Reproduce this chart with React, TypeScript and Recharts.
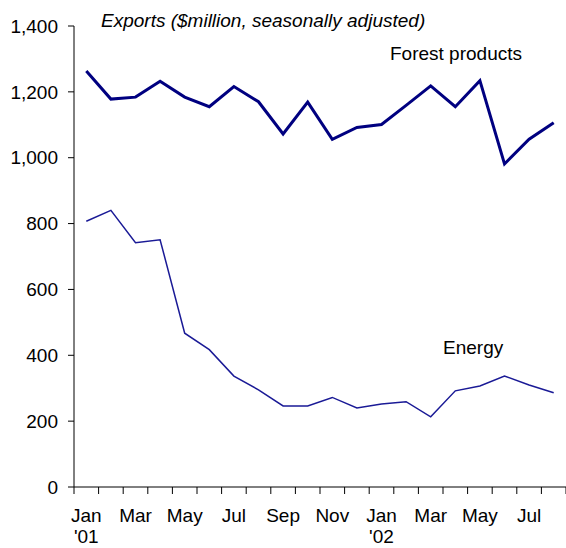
import { Line, LineChart, XAxis, YAxis } from "recharts";

const months = ["Jan", "Feb", "Mar", "Apr", "May", "Jun", "Jul", "Aug", "Sep", "Oct", "Nov", "Dec",
  "Jan", "Feb", "Mar", "Apr", "May", "Jun", "Jul", "Aug"];
const years = ["'01", "", "", "", "", "", "", "", "", "", "", "",
  "'02", "", "", "", "", "", "", ""];
const forestProducts = [1263, 1178, 1184, 1232, 1184, 1155, 1216, 1170, 1072, 1169,
  1056, 1092, 1101, 1159, 1218, 1155, 1234, 981, 1056, 1106];
const energy = [807, 840, 742, 751, 467, 417, 337, 295, 246, 246,
  272, 240, 252, 259, 213, 292, 307, 337, 310, 286];
const yTicks = [0, 200, 400, 600, 800, 1000, 1200, 1400];

// each month sits in the middle of its slot, tick marks go on the slot edges
const data = months.map((m, i) => ({
  x: i + 0.5,
  forest: forestProducts[i],
  energy: energy[i],
}));
const boundaryTicks = [...months.map((_, i) => i), months.length];

const FONT = '"Liberation Sans", Arial, sans-serif';
const W = 566;
const H = 548;

function MonthTick(props: any) {
  const { x, y, payload, width } = props;
  const i = payload.value;
  if (i % 2 !== 0 || i >= months.length) return null;
  const cx = x + width / months.length / 2;
  return (
    <g>
      <text x={cx} y={y + 28} textAnchor="middle" fontSize={19} fill="#000" fontFamily={FONT}>
        {months[i]}
      </text>
      {years[i] && (
        <text x={cx} y={y + 49} textAnchor="middle" fontSize={19} fill="#000" fontFamily={FONT}>
          {years[i]}
        </text>
      )}
    </g>
  );
}

export default function App() {
  return (
    <div style={{ position: "absolute", left: 0, top: 0, width: W, height: H, background: "#fff" }}>
      <LineChart width={W} height={H} data={data} margin={{ top: 26, right: 0, left: 0, bottom: 0 }}>
        <XAxis
          dataKey="x"
          type="number"
          domain={[0, months.length]}
          ticks={boundaryTicks}
          interval={0}
          tickSize={7}
          tickMargin={0}
          height={61}
          stroke="#000"
          tick={<MonthTick />}
        />
        <YAxis
          domain={[0, 1400]}
          ticks={yTicks}
          interval={0}
          width={74}
          tickSize={6}
          tickMargin={10}
          stroke="#000"
          tick={{ fontSize: 19, fill: "#000", fontFamily: FONT }}
          tickFormatter={(v) => Number(v).toLocaleString("en-US")}
        />
        <Line dataKey="forest" stroke="#000080" strokeWidth={3} dot={false} isAnimationActive={false} />
        <Line dataKey="energy" stroke="#1a1a96" strokeWidth={1.5} dot={false} isAnimationActive={false} />
      </LineChart>
      <svg width={W} height={H} style={{ position: "absolute", left: 0, top: 0, pointerEvents: "none" }}>
        <text x={101} y={27} fontSize={19} fontStyle="italic" fill="#000" fontFamily={FONT}>
          Exports ($million, seasonally adjusted)
        </text>
        <text x={390} y={60} fontSize={19} fill="#000" fontFamily={FONT}>
          Forest products
        </text>
        <text x={443} y={354} fontSize={19} fill="#000" fontFamily={FONT}>
          Energy
        </text>
      </svg>
    </div>
  );
}
